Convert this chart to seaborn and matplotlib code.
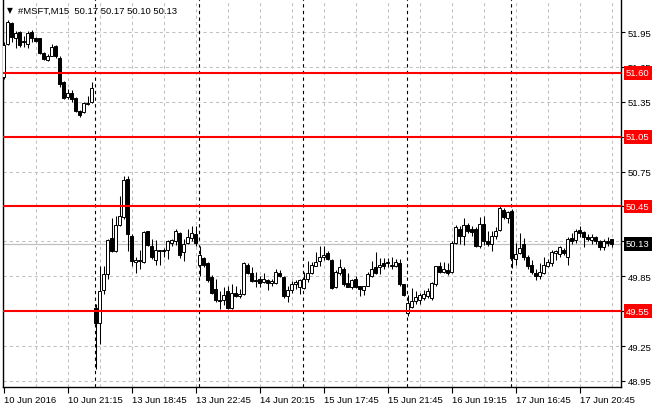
import numpy as np
import matplotlib
matplotlib.use("Agg")
import matplotlib.pyplot as plt
import matplotlib.transforms as mtransforms
import seaborn as sns

# Velas M15 de #MSFT (10-17 Jun 2016)
open_ = [51.56, 51.85, 52.03, 51.90, 51.95, 51.86, 51.85, 51.95, 51.90, 51.90,
         51.77, 51.71, 51.74, 51.83, 51.73, 51.52, 51.39, 51.43, 51.38, 51.27,
         51.26, 51.33, 51.35,
         49.58, 49.45, 49.73, 49.87, 50.18, 50.07, 50.29, 50.36, 50.69, 50.20,
         49.97, 49.99, 49.97, 50.24, 50.11, 49.99, 50.07, 50.08, 50.08, 50.14,
         50.15, 50.22, 50.06, 50.14, 50.18, 50.21,
         49.95, 50.01, 49.96, 49.84, 49.74, 49.65, 49.65, 49.72, 49.58, 49.71,
         49.68, 49.70, 49.95, 49.88, 49.82, 49.83, 49.80, 49.82, 49.79, 49.79,
         49.88, 49.84, 49.68, 49.73, 49.78, 49.76,
         49.75, 49.83, 49.88, 49.94, 49.98, 50.02, 50.05, 49.99, 49.76, 49.88,
         49.91, 49.79, 49.76, 49.83, 49.77, 49.73, 49.77, 49.85, 49.93, 49.93,
         49.96, 49.97, 49.94, 49.94, 49.96, 49.78,
         49.53, 49.59, 49.64, 49.65, 49.66, 49.68, 49.66, 49.78, 49.94, 49.89,
         49.90, 49.89, 50.14, 50.26, 50.20, 50.29, 50.26, 50.26, 50.11, 50.30,
         50.15, 50.13, 50.20, 50.25, 50.42, 50.35,
         50.41, 50.00, 50.05, 50.13, 50.02, 49.95, 49.88, 49.85, 49.88, 49.94,
         49.96, 50.05, 50.04, 50.08, 50.02, 50.18, 50.16, 50.25, 50.23, 50.19,
         50.16, 50.19, 50.15, 50.10, 50.15, 50.17]
high = [51.86, 52.05, 52.04, 51.96, 51.96, 51.92, 51.96, 51.97, 51.91, 51.90,
        51.78, 51.76, 51.85, 51.84, 51.74, 51.53, 51.46, 51.45, 51.39, 51.28,
        51.35, 51.40, 51.52,
        49.61, 49.94, 49.94, 50.17, 50.35, 50.37, 50.54, 50.71, 50.71, 50.21,
        50.02, 50.08, 50.24, 50.24, 50.17, 50.16, 50.08, 50.09, 50.16, 50.17,
        50.26, 50.23, 50.17, 50.26, 50.28, 50.28,
        50.11, 50.02, 49.97, 49.86, 49.83, 49.72, 49.76, 49.77, 49.78, 49.77,
        49.74, 49.97, 49.96, 49.93, 49.89, 49.85, 49.88, 49.83, 49.83, 49.91,
        49.90, 49.85, 49.77, 49.81, 49.82, 49.83,
        49.89, 49.98, 49.97, 50.06, 50.11, 50.11, 50.07, 50.00, 49.90, 50.00,
        49.93, 49.88, 49.83, 49.85, 49.77, 49.77, 49.89, 49.98, 50.06, 50.01,
        50.01, 50.01, 50.02, 50.00, 50.00, 49.78,
        49.69, 49.75, 49.72, 49.71, 49.73, 49.75, 49.80, 49.94, 49.97, 49.97,
        49.96, 50.15, 50.29, 50.28, 50.35, 50.31, 50.28, 50.27, 50.36, 50.37,
        50.24, 50.24, 50.27, 50.46, 50.44, 50.41,
        50.43, 50.14, 50.22, 50.18, 50.03, 49.99, 49.91, 49.96, 50.02, 50.00,
        50.08, 50.08, 50.11, 50.09, 50.19, 50.22, 50.26, 50.28, 50.24, 50.21,
        50.21, 50.20, 50.16, 50.17, 50.19, 50.17]
low = [51.55, 51.84, 51.86, 51.81, 51.82, 51.82, 51.81, 51.86, 51.86, 51.76,
       51.71, 51.70, 51.74, 51.73, 51.48, 51.37, 51.37, 51.35, 51.26, 51.22,
       51.25, 51.32, 51.34,
       49.05, 49.27, 49.70, 49.83, 50.06, 50.06, 50.28, 50.34, 50.07, 49.94,
       49.88, 49.91, 49.96, 50.11, 50.00, 49.95, 49.95, 50.02, 50.00, 50.11,
       50.12, 50.01, 49.98, 50.13, 50.15, 50.11,
       49.85, 49.93, 49.80, 49.70, 49.63, 49.57, 49.60, 49.57, 49.57, 49.67,
       49.66, 49.69, 49.87, 49.80, 49.76, 49.76, 49.79, 49.73, 49.77, 49.78,
       49.84, 49.66, 49.63, 49.71, 49.74, 49.70,
       49.74, 49.80, 49.87, 49.94, 49.94, 49.99, 49.99, 49.74, 49.75, 49.86,
       49.77, 49.76, 49.74, 49.75, 49.68, 49.69, 49.77, 49.84, 49.87, 49.87,
       49.91, 49.93, 49.91, 49.93, 49.77, 49.68,
       49.51, 49.58, 49.61, 49.61, 49.65, 49.66, 49.65, 49.77, 49.88, 49.88,
       49.86, 49.88, 50.13, 50.13, 50.12, 50.22, 50.20, 50.10, 50.09, 50.12,
       50.11, 50.07, 50.17, 50.24, 50.34, 50.31,
       49.92, 49.95, 50.04, 49.99, 49.91, 49.87, 49.82, 49.83, 49.87, 49.93,
       49.94, 49.99, 50.02, 50.03, 49.95, 50.13, 50.14, 50.19, 50.10, 50.15,
       50.13, 50.13, 50.08, 50.08, 50.11, 50.10]
close = [51.84, 52.04, 51.91, 51.94, 51.84, 51.87, 51.94, 51.90, 51.87, 51.77,
         51.72, 51.74, 51.82, 51.74, 51.50, 51.38, 51.43, 51.37, 51.27, 51.24,
         51.34, 51.34, 51.47,
         49.45, 49.72, 49.87, 50.16, 50.07, 50.29, 50.37, 50.68, 50.21, 49.98,
         49.99, 49.98, 50.23, 50.12, 50.02, 50.08, 50.08, 50.07, 50.15, 50.16,
         50.24, 50.03, 50.13, 50.19, 50.22, 50.14,
         50.03, 49.95, 49.82, 49.71, 49.65, 49.64, 49.69, 49.58, 49.71, 49.68,
         49.70, 49.96, 49.88, 49.81, 49.81, 49.79, 49.83, 49.79, 49.81, 49.89,
         49.85, 49.68, 49.73, 49.78, 49.80, 49.82,
         49.83, 49.88, 49.95, 49.97, 50.02, 50.03, 50.00, 49.75, 49.89, 49.93,
         49.78, 49.76, 49.82, 49.76, 49.74, 49.77, 49.87, 49.91, 49.88, 49.95,
         49.94, 49.96, 49.95, 49.97, 49.78, 49.69,
         49.62, 49.64, 49.67, 49.69, 49.70, 49.72, 49.79, 49.94, 49.89, 49.91,
         49.88, 50.14, 50.27, 50.20, 50.29, 50.24, 50.23, 50.11, 50.30, 50.15,
         50.13, 50.20, 50.24, 50.44, 50.36, 50.40,
         50.01, 50.04, 50.09, 50.02, 49.94, 49.89, 49.85, 49.89, 49.95, 49.97,
         50.06, 50.07, 50.10, 50.05, 50.17, 50.15, 50.24, 50.22, 50.19, 50.17,
         50.19, 50.15, 50.10, 50.15, 50.14, 50.13]

# barras por sesión (10 Jun parcial, luego 13-17 Jun)
day_bars = [23, 26, 26, 26, 26, 26]

niveles = [51.60, 51.05, 50.45, 49.55]
bid = 50.13
y_ticks = [48.95, 49.25, 49.55, 49.85, 50.15, 50.45, 50.75, 51.05, 51.35, 51.65, 51.95]
x_labels = ["10 Jun 2016", "10 Jun 21:15", "13 Jun 18:45", "13 Jun 22:45",
            "14 Jun 20:15", "15 Jun 17:45", "15 Jun 21:45", "16 Jun 19:15",
            "17 Jun 16:45", "17 Jun 20:45"]
titulo = "#MSFT,M15  50.17 50.17 50.10 50.13"

sns.set_theme(style="white")
plt.rcParams['font.family'] = ['Liberation Sans', 'DejaVu Sans']

o = np.array(open_)
h = np.array(high)
l = np.array(low)
c = np.array(close)
x = np.arange(len(o))

fig = plt.figure(figsize=(6.6, 4.1), dpi=100)
ax = fig.add_axes([3 / 660, 22 / 410, 618 / 660, 388 / 410])

# rejilla
gris = '#c0c0c0'
for yv in y_ticks:
    ax.axhline(yv, color=gris, lw=0.75, ls=(0, (3, 3)), zorder=0)
for xv in range(8, 156, 8):
    ax.axvline(xv, color=gris, lw=0.75, ls=(0, (3, 3)), zorder=0)

# separadores de día
for xv in np.cumsum(day_bars)[:-1]:
    ax.axvline(xv - 0.15, color='black', lw=0.8, ls=(0, (3, 3)), zorder=1)

# línea bid
ax.axhline(bid, color=gris, lw=0.9, zorder=1)

# velas
ax.vlines(x, l, h, color='black', lw=0.75, zorder=3)
alcista = c >= o
cuerpo = np.maximum(np.abs(c - o), 0.002)
ax.bar(x, cuerpo, bottom=np.minimum(o, c), width=0.72,
       color=np.where(alcista, 'white', 'black'), edgecolor='black',
       linewidth=0.7, zorder=4)

# niveles rojos
for nv in niveles:
    ax.axhline(nv, color='#ff0000', lw=1.5, zorder=5)

ax.set_xlim(-0.2, 154.3)
ax.set_ylim(48.898, 52.234)

# las etiquetas que quedan tapadas por las marcas de precio no se escriben
tapadas = [round(v, 2) for v in niveles] + [50.15]
ax.yaxis.tick_right()
ax.set_yticks(y_ticks)
ax.set_yticklabels(["" if round(v, 2) in tapadas else f"{v:.2f}" for v in y_ticks])
ax.set_xticks(range(0, 16 * len(x_labels), 16))
ax.set_xticklabels(x_labels, ha='left')
ax.tick_params(axis='y', direction='out', length=3, width=0.8, pad=2,
               labelsize=6.8, colors='black', right=True, left=False)
ax.tick_params(axis='x', direction='out', length=4, width=0.8, pad=2,
               labelsize=6.8, colors='black', bottom=True)

for side in ['left', 'bottom', 'right']:
    ax.spines[side].set_visible(True)
    ax.spines[side].set_color('black')
    ax.spines[side].set_linewidth(1)
ax.spines['top'].set_visible(False)

# etiquetas de precio
trans = mtransforms.blended_transform_factory(ax.transAxes, ax.transData)
for nv in niveles:
    ax.text(1.008, nv, f"{nv:.2f}", transform=trans, ha='left', va='center',
            fontsize=6.8, color='white', clip_on=False, zorder=10,
            bbox=dict(boxstyle='square,pad=0.25', fc='#ff0000', ec='none'))
ax.text(1.008, bid, f"{bid:.2f}", transform=trans, ha='left', va='center',
        fontsize=6.8, color='white', clip_on=False, zorder=10,
        bbox=dict(boxstyle='square,pad=0.25', fc='black', ec='none'))

# título
fig.text(7 / 660, 1 - 11 / 410, "▼", family='DejaVu Sans', fontsize=5.5,
         va='center', ha='left', color='black')
fig.text(18 / 660, 1 - 11 / 410, titulo, fontsize=6.8, va='center', ha='left',
         color='black')

fig.savefig("out.png", dpi=100)
